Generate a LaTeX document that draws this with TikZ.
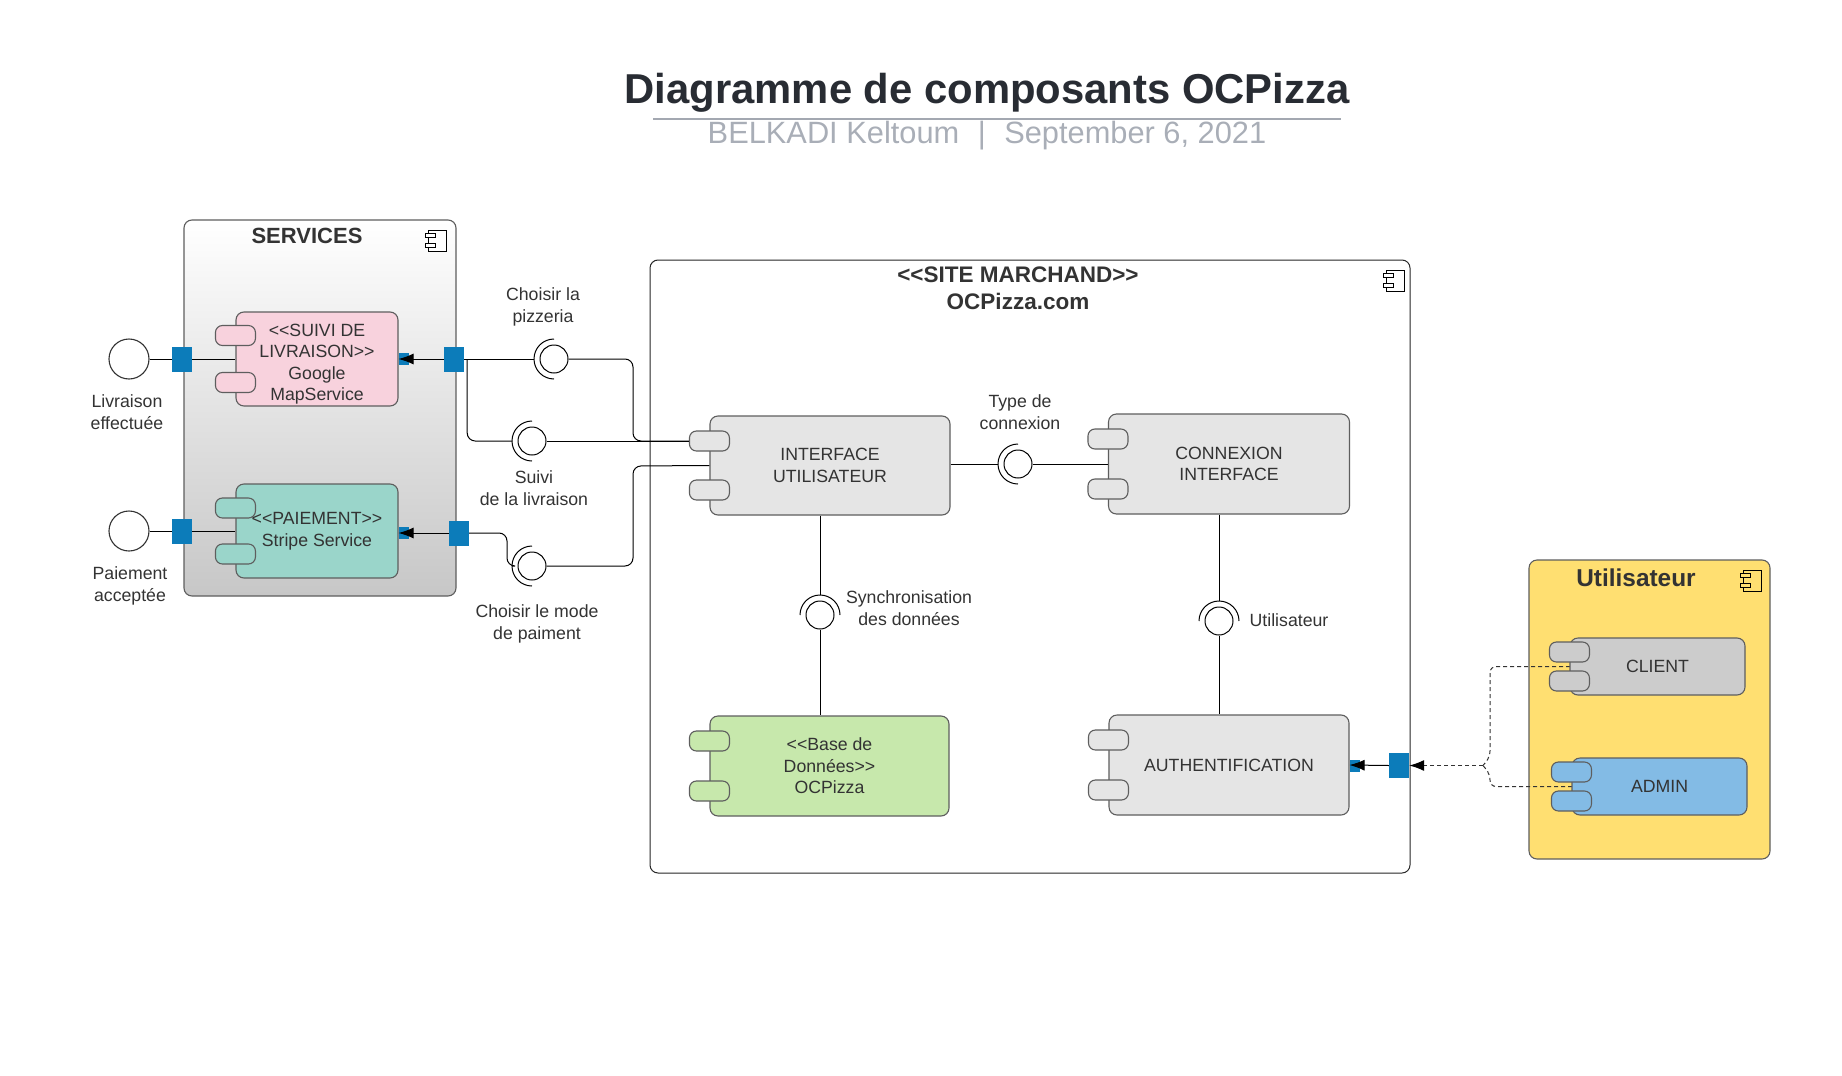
\documentclass[tikz,border=0pt]{standalone}
\usepackage{fontspec}
\setmainfont{Liberation Sans}[Ligatures=TeXOff]
\usetikzlibrary{arrows.meta,positioning}

\definecolor{txtgray}{HTML}{333333}
\definecolor{edgegray}{HTML}{5E5E5E}
\definecolor{portblue}{HTML}{0C7CBA}
\definecolor{suivipink}{HTML}{F8D2DD}
\definecolor{paietteal}{HTML}{9AD5CA}
\definecolor{basegreen}{HTML}{C7E8AC}
\definecolor{boxgray}{HTML}{E5E5E5}
\definecolor{clientgray}{HTML}{CCCCCC}
\definecolor{adminblue}{HTML}{83BBE5}
\definecolor{useryellow}{HTML}{FFDF71}
\definecolor{titlegray}{HTML}{282C33}
\definecolor{subgray}{HTML}{A9AEB7}
\definecolor{rulegray}{HTML}{A3A8B1}

\tikzset{
  txt/.style={font=\fontsize{17.7}{21.5}\selectfont, text=txtgray, align=center},
  comp/.style={txt, draw=edgegray, line width=1.1pt, rounded corners=8pt, inner sep=0pt},
  tab/.style={draw=edgegray, line width=1.1pt, rounded corners=7pt, minimum width=40pt, minimum height=20pt, inner sep=0pt},
  port/.style={fill=portblue, minimum width=20pt, minimum height=25pt, inner sep=0pt},
  chip/.style={fill=portblue, minimum width=10pt, minimum height=12pt, inner sep=0pt},
  ball/.style={circle, draw=black, fill=white, line width=1pt, minimum size=28pt, inner sep=0pt},
  iface/.style={circle, draw=txtgray, fill=white, line width=1.1pt, minimum size=40pt, inner sep=0pt},
  conn/.style={line width=1pt, black},
  dashline/.style={line width=1pt, txtgray, dash pattern=on 4pt off 3pt},
  endtip/.style={-{Latex[length=15pt,width=11pt,color=black]}},
  container/.style={draw=edgegray, line width=1.1pt, rounded corners=8pt, inner sep=0pt},
  ctitle/.style={font=\bfseries\fontsize{22.5}{27}\selectfont, text=txtgray, align=center},
  compicon/.pic={
    \filldraw[line width=1pt] (-9,-10.5) rectangle (9,10.5);
    \filldraw[line width=1pt] (-12,-7.5) rectangle (-2,-3.5);
    \filldraw[line width=1pt] (-12,2.5) rectangle (-2,6.5);
  }
}

% socket: name, position, facing, start, end
\newcommand{\socketball}[5]{%
  \node[ball] (#1) at (#2) {};
  \coordinate (#1-s) at ([shift={(#3:20pt)}]#1.center);
  \draw[conn] ([shift={(#4:20pt)}]#1.center) arc[start angle=#4, end angle=#5, radius=20pt];
}
% two tabs on the left side of a component
\newcommand{\comptabs}[3]{%
  \node[tab, fill=#2] (#1-t1) at ([yshift=#3]#1.west) {};
  \node[tab, fill=#2] (#1-t2) at ([yshift=-#3]#1.west) {};
}

\begin{document}
\begin{tikzpicture}[x=1pt,y=-1pt]
\useasboundingbox (0,0) rectangle (1842,1076);

% title
\node[font=\bfseries\fontsize{41.8}{50}\selectfont, text=titlegray, anchor=base] (title) at (987,103) {Diagramme de composants OCPizza};
\draw[line width=2pt, rulegray] (653,119) -- (1341,119);
\node[font=\fontsize{30.8}{36}\selectfont, text=subgray, anchor=base] (subtitle) at (987,143) {BELKADI Keltoum\hspace{0.6em}|\hspace{0.6em}September 6, 2021};

% containers
\node[container, top color=white, bottom color=black!22, minimum width=272pt, minimum height=376pt] (SRV) at (320,408) {};
\node[ctitle, font=\bfseries\fontsize{22}{27}\selectfont] (SRVt) at (307,236) {SERVICES};
\pic[fill=white, draw=black] at (437,240.5) {compicon};

\node[container, draw=black!85, line width=1pt, fill=white, minimum width=760pt, minimum height=613pt] (SM) at (1030,566.5) {};
\node[ctitle] (SMt) at (1018,288) {<<SITE MARCHAND>>\\OCPizza.com};
\pic[fill=white, draw=black] at (1395,280.5) {compicon};

\node[container, fill=useryellow, minimum width=241pt, minimum height=299pt] (USR) at (1649.5,709.5) {};
\node[ctitle, font=\bfseries\fontsize{24.4}{29}\selectfont] (USRt) at (1636,578) {Utilisateur};
\pic[fill=useryellow, draw=black] at (1752,580.5) {compicon};

% components
\node[comp, fill=suivipink, minimum width=162pt, minimum height=94pt] (SV) at (317,359) {\rule{0pt}{23pt}<<SUIVI DE\\LIVRAISON>>\\Google\\MapService};
\comptabs{SV}{suivipink}{23.5pt}
\node[comp, fill=paietteal, minimum width=162pt, minimum height=94pt] (TP) at (317,531) {<<PAIEMENT>>\\Stripe Service};
\comptabs{TP}{paietteal}{23pt}
\node[comp, fill=boxgray, minimum width=240pt, minimum height=99pt] (UI) at (830,465.5) {INTERFACE\\UTILISATEUR};
\comptabs{UI}{boxgray}{24.5pt}
\node[comp, fill=boxgray, minimum width=241pt, minimum height=100pt] (CX) at (1229,464) {CONNEXION\\INTERFACE};
\comptabs{CX}{boxgray}{25pt}
\node[comp, fill=basegreen, minimum width=239pt, minimum height=100pt] (DB) at (829.5,766) {<<Base de\\Données>>\\OCPizza};
\comptabs{DB}{basegreen}{25pt}
\node[comp, fill=boxgray, minimum width=240pt, minimum height=100pt] (AU) at (1229,765) {AUTHENTIFICATION};
\comptabs{AU}{boxgray}{25pt}

% dashed links from the users (under their boxes)
\coordinate (jU) at (1483,765.5);
\draw[dashline, rounded corners=6pt] (1570,666.5) -| (1490,757) -- (jU);
\draw[dashline, rounded corners=6pt] (1572,786.5) -| (1490,774) -- (jU);

\node[comp, fill=clientgray, minimum width=175pt, minimum height=57pt] (CL) at (1657.5,666.5) {CLIENT};
\comptabs{CL}{clientgray}{14.5pt}
\node[comp, fill=adminblue, minimum width=175pt, minimum height=57pt] (AD) at (1659.5,786.5) {ADMIN};
\comptabs{AD}{adminblue}{14.5pt}

% ports
\node[chip] (cS1) at (404,359) {};
\node[chip] (cT1) at (404,533) {};
\node[chip] (cAU) at (1354.5,765.5) {};
\node[port] (pLiv) at (182,359) {};
\node[port] (pPay) at (182,531) {};
\node[port] (pS1) at (454,359) {};
\node[port] (pT1) at (459,533) {};
\node[port] (pAU) at (1399,765.5) {};

\node[iface] (iLiv) at (129,359) {};
\node[iface] (iPay) at (129,531) {};

% sockets
\socketball{sA}{554,359}{180}{90}{270}
\socketball{sB}{532,441}{180}{90}{270}
\socketball{sC}{532,566}{180}{90}{270}
\socketball{sT}{1018,464}{180}{90}{270}
\socketball{sY}{820,615}{90}{0}{180}
\socketball{sU}{1219,621}{90}{0}{180}

% connectors
\draw[conn] (iLiv) -- (pLiv);
\draw[conn] (pLiv) -- (SV.west);
\draw[conn] (iPay) -- (pPay);
\draw[conn] (pPay) -- (TP.west);
\draw[conn, endtip] (pS1.west) -- (SV.east);
\draw[conn, endtip] (pT1.west) -- (pT1.west -| TP.east);
\draw[conn, endtip] (pAU.west) -- (AU.east);
\draw[dashline, endtip] (jU) -- (pAU.east);

\draw[conn] (pS1.east) -- (sA-s);
\draw[conn, rounded corners=8pt] (sA.east) -| (633,441) -- (UI-t1.west);
\draw[conn, rounded corners=8pt] ([xshift=3pt]pS1.east) |- (sB-s);
\draw[conn] (sB.east) -- (UI-t1.west);
\draw[conn, rounded corners=8pt] (pT1.east) -- (507,533) |- (sC-s);
\draw[conn, rounded corners=8pt] (sC.east) -| (633,466) -- (UI.west);

\draw[conn] (UI.east |- sT) -- (sT-s);
\draw[conn] (sT.east) -- (CX.west |- sT);
\draw[conn] (UI.south -| sY) -- (sY-s);
\draw[conn] (sY.south) -- (DB.north -| sY);
\draw[conn] (CX.south -| sU) -- (sU-s);
\draw[conn] (sU.south) -- (AU.north -| sU);

% labels
\node[txt] (lLiv) at (127,412) {Livraison\\effectuée};
\node[txt] (lPay) at (130,586) {Paiement\\acceptée};
\node[txt] (lA) at (543,307) {Choisir la\\pizzeria};
\node[txt] (lB) at (534,488) {Suivi\\de la livraison};
\node[txt] (lC) at (537,624) {Choisir le mode\\de paiment};
\node[txt] (lT) at (1020,412) {Type de\\connexion};
\node[txt] (lY) at (909,608) {Synchronisation\\des données};
\node[txt] (lU) at (1289,620) {Utilisateur};
\end{tikzpicture}
\end{document}
